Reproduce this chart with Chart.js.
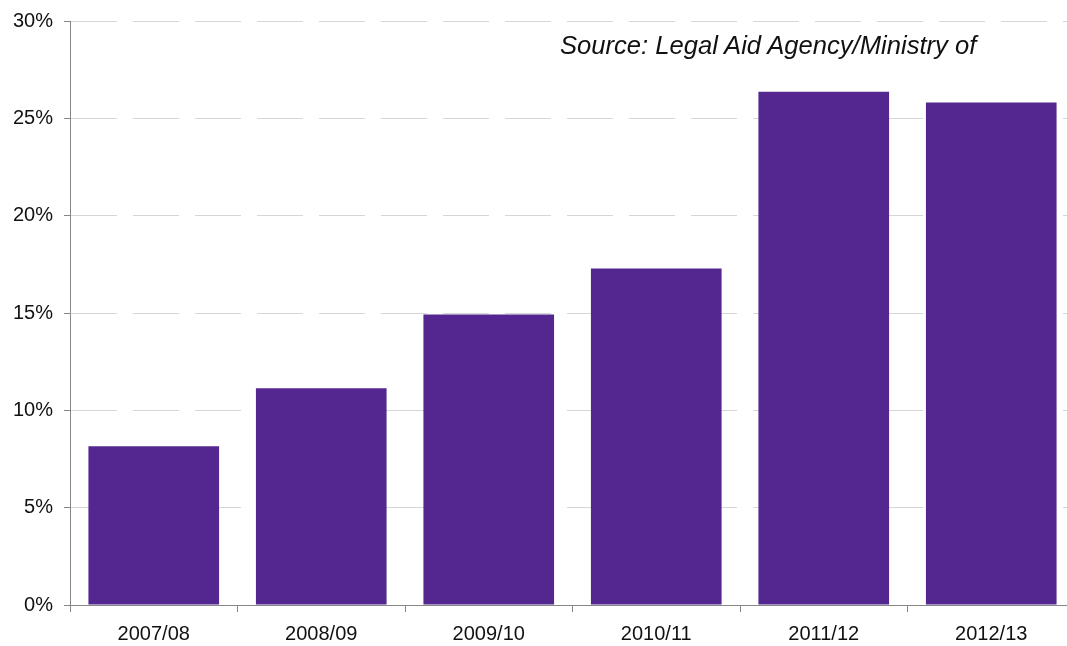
<!DOCTYPE html>
<html>
<head>
<meta charset="utf-8">
<script src="https://cdn.jsdelivr.net/npm/chart.js@4"></script>
<style>
  html, body { margin: 0; padding: 0; background: #fff; overflow: hidden; }
  .chart { position: absolute; left: 0; top: 0; width: 1075px; height: 646px; }
  .source {
    position: absolute; left: 560px; top: 31px;
    font-family: "Liberation Sans", Arial, sans-serif;
    font-style: italic; font-size: 25.6px; color: #111; white-space: nowrap;
  }
</style>
</head>
<body>
<div class="chart"><canvas id="myChart" width="1075" height="646"></canvas></div>
<div class="source">Source: Legal Aid Agency/Ministry of</div>
<script>
const years = ['2007/08', '2008/09', '2009/10', '2010/11', '2011/12', '2012/13'];
const shares = [8.15, 11.13, 14.92, 17.28, 26.36, 25.81];
const yTicks = [0, 5, 10, 15, 20, 25, 30];

let ctx = document.querySelector('#myChart').getContext('2d');

let myChart = new Chart(ctx, {
    type: 'bar',
    data: {
        labels: years,
        datasets: [{
            data: shares,
            backgroundColor: '#53278F',
            borderWidth: 0,
            barPercentage: 0.78,
            categoryPercentage: 1
        }]
    },
    options: {
        responsive: false,
        animation: false,
        layout: { padding: { top: 20, right: 0, left: 0, bottom: 0 } },
        plugins: { legend: { display: false }, tooltip: { enabled: false } },
        scales: {
            x: {
                offset: true,
                grid: { offset: true, drawOnChartArea: false, color: '#868686', tickLength: 7 },
                border: { color: '#868686', width: 1 },
                ticks: {
                    color: '#111', padding: 10,
                    font: { family: '"Liberation Sans", Arial, sans-serif', size: 20 }
                },
                afterFit: function(scale) { scale.height = 41; }
            },
            y: {
                min: 0,
                max: 30,
                afterBuildTicks: function(scale) {
                    scale.ticks = yTicks.map(v => ({ value: v }));
                },
                grid: {
                    color: '#d6d6d6', lineWidth: 1,
                    tickColor: '#868686', tickLength: 6
                },
                border: { color: '#868686', width: 1, dash: [46, 16] },
                ticks: {
                    color: '#111', padding: 11,
                    font: { family: '"Liberation Sans", Arial, sans-serif', size: 20, lineHeight: 1 },
                    callback: v => v + '%'
                },
                afterFit: function(scale) { scale.width = 70; }
            }
        }
    }
});
</script>
</body>
</html>
